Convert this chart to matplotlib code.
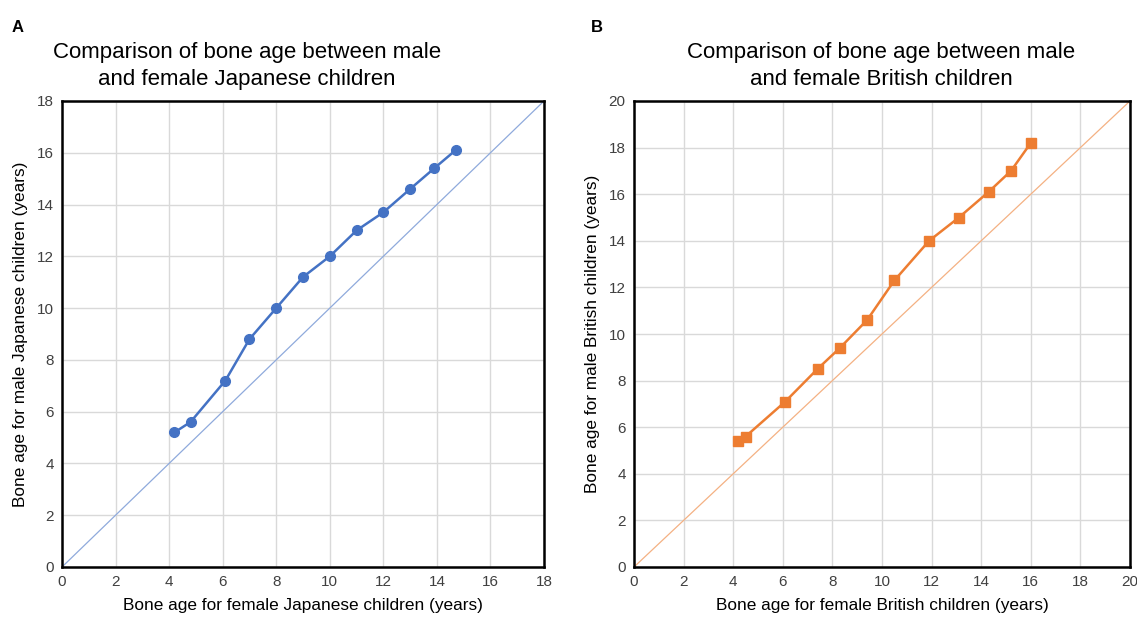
import matplotlib.pyplot as plt
import numpy as np

plt.rcParams['font.family'] = ['Liberation Sans', 'DejaVu Sans']

# Japanese children (panel A)
jp_female = [4.2, 4.8, 6.1, 7.0, 8.0, 9.0, 10.0, 11.0, 12.0, 13.0, 13.9, 14.7]
jp_male = [5.2, 5.6, 7.2, 8.8, 10.0, 11.2, 12.0, 13.0, 13.7, 14.6, 15.4, 16.1]

# British children (panel B)
br_female = [4.2, 4.5, 6.1, 7.4, 8.3, 9.4, 10.5, 11.9, 13.1, 14.3, 15.2, 16.0]
br_male = [5.4, 5.6, 7.1, 8.5, 9.4, 10.6, 12.3, 14.0, 15.0, 16.1, 17.0, 18.2]

W, H = 1137, 617
fig = plt.figure(figsize=(W / 100, H / 100), dpi=100)


def make_axes(left, right, top, bottom):
    return fig.add_axes([left / W, 1 - bottom / H, (right - left) / W, (bottom - top) / H])


def style(ax, lim):
    ax.set_xlim(0, lim)
    ax.set_ylim(0, lim)
    ticks = np.arange(0, lim + 1, 2)
    ax.set_xticks(ticks)
    ax.set_yticks(ticks)
    ax.grid(True, color='#d9d9d9', linewidth=1)
    ax.set_axisbelow(True)
    ax.tick_params(length=0, labelsize=11, labelcolor='#404040', pad=6)
    for s in ax.spines.values():
        s.set_linewidth(1.8)
        s.set_color('black')


axA = make_axes(62, 544, 101, 567)
style(axA, 18)
axA.plot([0, 18], [0, 18], color='#8faadc', linewidth=0.9)
axA.plot(jp_female, jp_male, '-o', color='#4472c4', linewidth=1.8, markersize=7)
axA.set_xlabel('Bone age for female Japanese children (years)', fontsize=12.4, labelpad=6)
axA.set_ylabel('Bone age for male Japanese children (years)', fontsize=12.4, labelpad=6)

axB = make_axes(634, 1130, 101, 567)
style(axB, 20)
axB.plot([0, 20], [0, 20], color='#f4b183', linewidth=0.9)
axB.plot(br_female, br_male, '-s', color='#ed7d31', linewidth=1.8, markersize=7)
axB.set_xlabel('Bone age for female British children (years)', fontsize=12.4, labelpad=6)
axB.set_ylabel('Bone age for male British children (years)', fontsize=12.4, labelpad=6)

fig.text(247 / W, 1 - 66 / H, 'Comparison of bone age between male\nand female Japanese children',
         ha='center', va='center', fontsize=16, linespacing=1.4)
fig.text(881 / W, 1 - 66 / H, 'Comparison of bone age between male\nand female British children',
         ha='center', va='center', fontsize=16, linespacing=1.4)

fig.text(12 / W, 1 - 28 / H, 'A', fontsize=12, fontweight='bold', va='center')
fig.text(591 / W, 1 - 28 / H, 'B', fontsize=12, fontweight='bold', va='center')

fig.savefig('out.png', dpi=100)
